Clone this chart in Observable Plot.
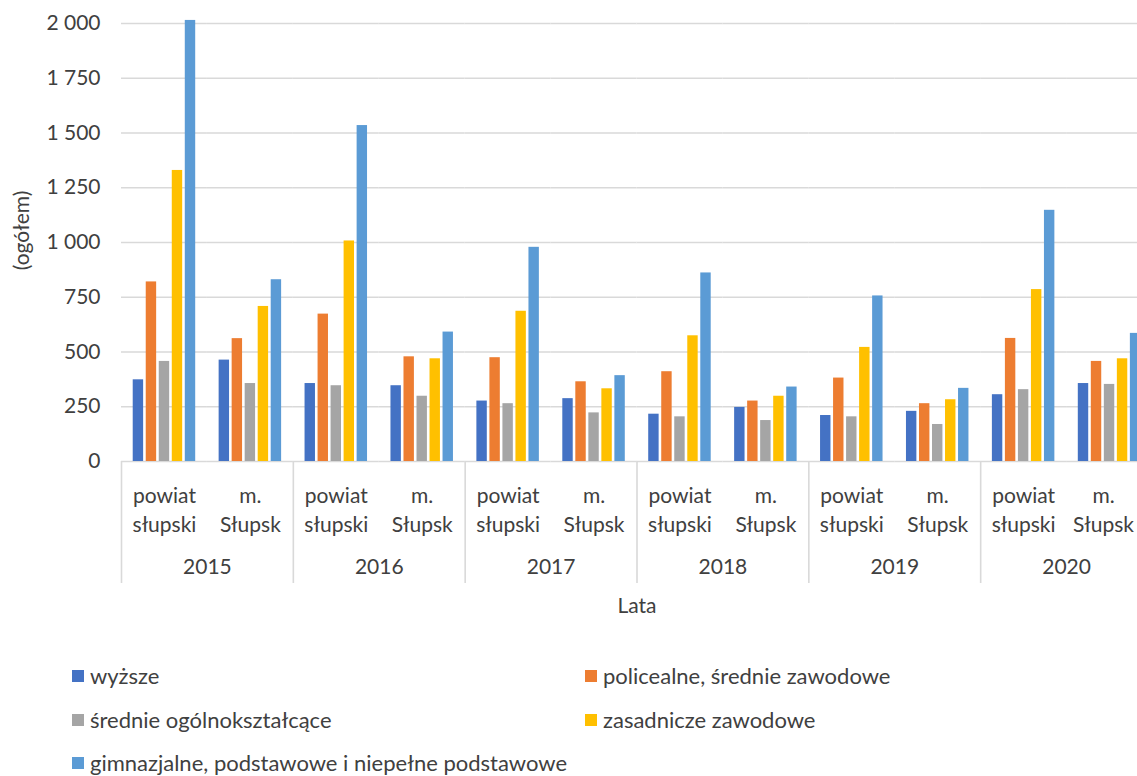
<!DOCTYPE html>
<html>
<head>
<meta charset="utf-8">
<script src="https://cdn.jsdelivr.net/npm/d3@7"></script>
<script src="https://cdn.jsdelivr.net/npm/@observablehq/plot@0.6"></script>
<style>
  html, body { margin: 0; padding: 0; background: #fff; overflow: hidden; width: 1137px; height: 776px; }
  body { font-family: Lato, "Open Sans", sans-serif; position: relative; }
  #chart { position: absolute; left: 0; top: 0; width: 1160px; }
  #chart svg { max-width: none !important; width: 1160px !important; height: 630px !important; }
  #legend { position: absolute; left: 0; top: 0; width: 1137px; height: 776px; }
  .item { position: absolute; display: flex; align-items: center; font-size: 22px; color: #404040; white-space: nowrap; line-height: 1; }
  .sw { width: 12px; height: 12px; margin-right: 6px; flex: none; }
</style>
</head>
<body>
<div id="chart"></div>
<div id="legend"></div>
<script>
// ---- data ----
const years = ["2015", "2016", "2017", "2018", "2019", "2020"];
const regions = ["powiat słupski", "m. Słupsk"];
const regionLabels = ["powiat\nsłupski", "m.\nSłupsk"];
const series = [
  "wyższe",
  "policealne, średnie zawodowe",
  "średnie ogólnokształcące",
  "zasadnicze zawodowe",
  "gimnazjalne, podstawowe i niepełne podstawowe"
];
const colors = ["#4472C4", "#ED7D31", "#A5A5A5", "#FFC000", "#5B9BD5"];
// values per category, in order: 2015 powiat, 2015 miasto, 2016 powiat, ...
const wyzsze      = [373, 463, 356, 346, 276, 287, 216, 247, 210, 229, 305, 356];
const policealne  = [820, 561, 673, 478, 474, 364, 410, 276, 381, 264, 562, 457];
const srednieOgol = [457, 356, 346, 298, 264, 222, 204, 187, 204, 169, 328, 352];
const zasadnicze  = [1329, 708, 1007, 469, 686, 332, 574, 298, 521, 282, 785, 469];
const gimnazjalne = [2014, 830, 1534, 591, 978, 392, 861, 340, 756, 334, 1147, 585];
const yTicks = [0, 250, 500, 750, 1000, 1250, 1500, 1750, 2000];
const yLabel = "(ogółem)";
const xLabel = "Lata";

// ---- build table ----
const seriesValues = [wyzsze, policealne, srednieOgol, zasadnicze, gimnazjalne];
const cats = years.flatMap(y => regions.map((r, ri) => ({key: y + "|" + r, year: y, label: regionLabels[ri]})));
const keys = cats.map(c => c.key);
const rows = [];
seriesValues.forEach((vals, s) => vals.forEach((v, i) => rows.push({key: keys[i], series: series[s], value: v})));

const fmt = d => d3.format(",")(d).replace(/,/g, "\u00a0");

// ---- layout ----
const W = 1160, H = 630, ML = 121, MR = 8, MT = 23, MB = 169;
const bw = (W - ML - MR) / keys.length;
const grid = "#d9d9d9";
const textColor = "#404040";
const catText = {x: null, y: null, text: "label", frameAnchor: "bottom", dy: 47, lineAnchor: "middle", lineHeight: 1.38, fill: textColor, fontSize: 21};

const plot = Plot.plot({
  width: W, height: H,
  marginLeft: ML, marginRight: MR, marginTop: MT, marginBottom: MB,
  style: {fontFamily: "Lato, 'Open Sans', sans-serif", fontSize: "21px", color: textColor, background: "white", overflow: "visible", maxWidth: "none"},
  fx: {domain: keys, paddingInner: 0, paddingOuter: 0, round: false, axis: null, label: null},
  x: {domain: series, paddingInner: 0.2, paddingOuter: 0.9, round: false, axis: null},
  y: {domain: [0, 2000], axis: null},
  color: {domain: series, range: colors},
  marks: [
    Plot.gridY(yTicks, {stroke: grid, strokeOpacity: 1, strokeWidth: 1.6}),
    Plot.axisY(yTicks, {tickFormat: fmt, tickSize: 0, tickPadding: 21, label: null, fontSize: 21, fill: textColor}),
    Plot.barY(rows, {fx: "key", x: "series", y: "value", fill: "series"}),
    // group separators of the hierarchical category axis
    Plot.ruleX(years, {fx: d => d + "|" + regions[0], x: null, dx: -bw / 2, insetTop: H - MT - MB, insetBottom: -122, stroke: grid, strokeWidth: 1.6}),
    // region labels (the last one nudged so it stays inside the window)
    Plot.text(cats.slice(0, -1), {fx: "key", ...catText}),
    Plot.text(cats.slice(-1), {fx: "key", ...catText, dx: -6}),
    // year labels
    Plot.text(years, {fx: d => d + "|" + regions[0], x: null, y: null, text: d => d, frameAnchor: "bottom-right", dy: 106, lineAnchor: "middle", textAnchor: "middle", fill: textColor, fontSize: 21}),
    // x axis title (centered on the frame = boundary between 6th and 7th category)
    Plot.text([xLabel], {fx: () => keys[5], x: null, y: null, text: d => d, frameAnchor: "bottom-right", dy: 145, lineAnchor: "middle", textAnchor: "middle", fill: textColor, fontSize: 21}),
    // y axis title
    Plot.text([yLabel], {fx: () => keys[0], x: null, y: null, text: d => d, frameAnchor: "left", dx: -99, dy: -12, rotate: -90, lineAnchor: "middle", textAnchor: "middle", fill: textColor, fontSize: 21})
  ]
});
document.getElementById("chart").appendChild(plot);

// ---- legend ----
const legendPos = [
  {x: 72, y: 676}, {x: 585, y: 676},
  {x: 72, y: 720}, {x: 585, y: 720},
  {x: 72, y: 763}
];
const legend = document.getElementById("legend");
series.forEach((s, i) => {
  const it = document.createElement("div");
  it.className = "item";
  it.style.left = legendPos[i].x + "px";
  it.style.top = (legendPos[i].y - 11) + "px";
  it.style.height = "22px";
  const sw = document.createElement("span");
  sw.className = "sw";
  sw.style.background = colors[i];
  const tx = document.createElement("span");
  tx.textContent = s;
  it.appendChild(sw);
  it.appendChild(tx);
  legend.appendChild(it);
});
</script>
</body>
</html>
